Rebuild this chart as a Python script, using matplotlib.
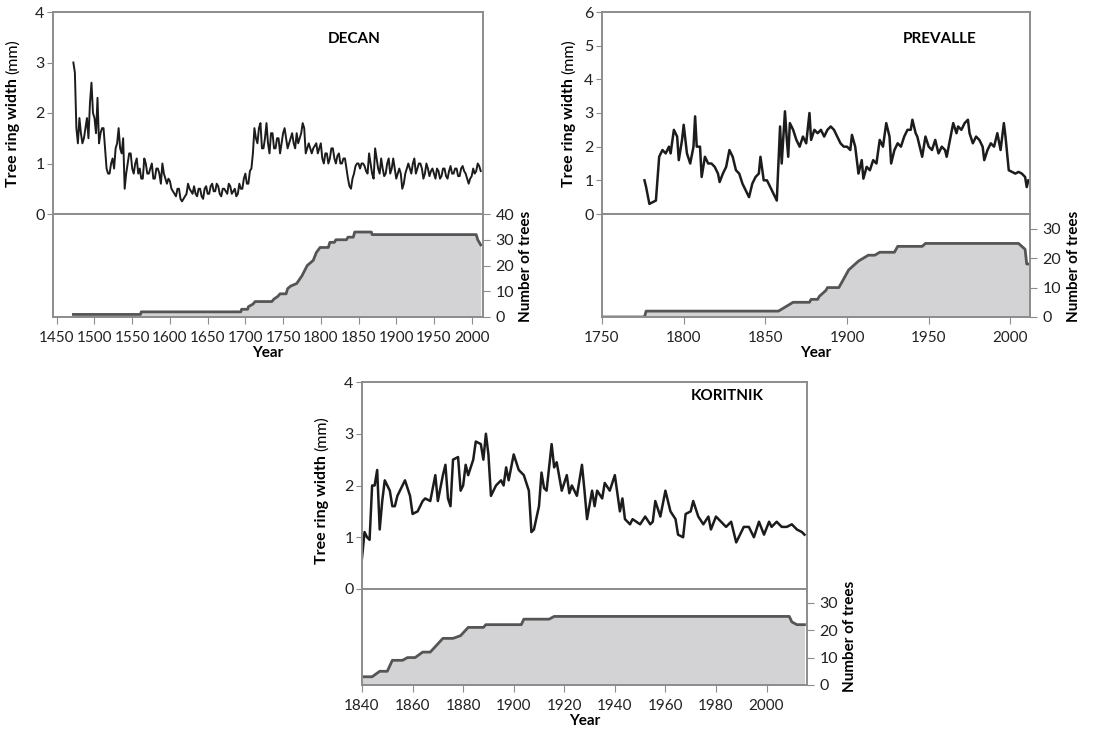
import numpy as np
import matplotlib
matplotlib.use("Agg")
import matplotlib.pyplot as plt

plt.rcParams['font.family'] = ['Lato', 'DejaVu Sans']

# ---- DECAN ----
decan_years = np.arange(1472, 2013, 2)
decan_width = [3.0, 2.8, 1.7, 1.4, 1.9, 1.6, 1.4, 1.5, 1.7, 1.9,
               1.5, 2.2, 2.6, 2.0, 1.9, 1.6, 2.3, 1.4, 1.6, 1.7,
               1.7, 1.3, 0.9, 0.8, 0.8, 1.0, 1.1, 0.9, 1.3, 1.4,
               1.7, 1.3, 1.2, 1.5, 0.5, 0.8, 1.0, 1.2, 1.2, 0.9,
               0.8, 1.0, 1.1, 0.8, 0.9, 0.7, 0.7, 1.1, 1.0, 0.8,
               0.8, 0.9, 1.0, 0.7, 0.7, 0.9, 0.9, 0.8, 0.6, 1.0,
               0.8, 0.7, 0.6, 0.7, 0.65, 0.5, 0.45, 0.4, 0.35, 0.5,
               0.5, 0.3, 0.25, 0.3, 0.35, 0.4, 0.6, 0.5, 0.45, 0.4,
               0.55, 0.4, 0.35, 0.5, 0.5, 0.35, 0.3, 0.5, 0.55, 0.4,
               0.4, 0.55, 0.6, 0.45, 0.45, 0.6, 0.55, 0.4, 0.35, 0.5,
               0.5, 0.45, 0.4, 0.6, 0.55, 0.4, 0.45, 0.5, 0.35, 0.4,
               0.6, 0.5, 0.5, 0.7, 0.8, 0.6, 0.6, 0.85, 0.9, 1.2,
               1.7, 1.5, 1.4, 1.7, 1.8, 1.3, 1.3, 1.5, 1.8, 1.4,
               1.2, 1.6, 1.6, 1.3, 1.3, 1.5, 1.5, 1.2, 1.4, 1.6,
               1.7, 1.5, 1.3, 1.4, 1.5, 1.6, 1.4, 1.3, 1.6, 1.4,
               1.5, 1.6, 1.8, 1.7, 1.2, 1.3, 1.4, 1.3, 1.2, 1.3,
               1.35, 1.4, 1.2, 1.3, 1.4, 1.1, 1.0, 1.2, 1.2, 1.0,
               1.1, 1.3, 1.3, 1.1, 1.0, 1.15, 1.2, 1.0, 1.0, 1.1,
               1.1, 0.9, 0.7, 0.55, 0.5, 0.7, 0.8, 0.95, 1.0, 1.0,
               0.9, 1.0, 1.0, 0.95, 0.85, 0.8, 1.2, 1.0, 0.8, 0.7,
               1.3, 1.1, 0.9, 0.8, 1.1, 0.9, 0.75, 0.8, 1.0, 1.1,
               0.8, 0.9, 1.1, 0.9, 0.7, 0.8, 0.9, 0.8, 0.5, 0.6,
               0.8, 0.9, 1.0, 0.9, 0.8, 1.0, 1.1, 0.8, 0.9, 1.0,
               1.0, 0.9, 0.7, 0.8, 1.0, 0.9, 0.75, 0.85, 0.9, 0.8,
               0.7, 0.9, 0.85, 0.7, 0.75, 0.9, 0.9, 0.75, 0.7, 0.85,
               0.95, 0.8, 0.8, 0.9, 0.9, 0.75, 0.75, 0.9, 0.95, 0.85,
               0.8, 0.7, 0.6, 0.7, 0.75, 0.9, 0.8, 0.85, 1.0, 0.95,
               0.85]
decan_depth_years = [1472, 1561, 1562, 1694, 1695, 1703, 1704, 1710, 1713, 1735,
                     1738, 1743, 1746, 1754, 1756, 1760, 1768, 1775, 1782, 1790,
                     1794, 1799, 1810, 1812, 1818, 1820, 1834, 1836, 1843, 1845,
                     1867, 1868, 2006, 2008, 2012]
decan_depth = [1, 1, 2, 2, 3, 3, 4, 5, 6, 6,
               7, 8, 9, 9, 11, 12, 13, 16, 20, 22,
               25, 27, 27, 29, 29, 30, 30, 31, 31, 33,
               33, 32, 32, 30, 28]

# ---- PREVALLE ----
prev_years = [1776, 1777, 1779, 1781, 1783, 1785, 1787, 1789, 1791, 1792,
              1794, 1796, 1797, 1799, 1800, 1802, 1804, 1806, 1807, 1808,
              1810, 1811, 1813, 1815, 1817, 1819, 1821, 1822, 1824, 1826,
              1828, 1830, 1832, 1834, 1836, 1838, 1840, 1842, 1844, 1846,
              1847, 1849, 1851, 1853, 1855, 1857, 1858, 1859, 1860, 1862,
              1863, 1864, 1865, 1867, 1869, 1871, 1873, 1875, 1877, 1878,
              1880, 1882, 1884, 1886, 1888, 1890, 1892, 1894, 1896, 1898,
              1900, 1902, 1903, 1905, 1907, 1909, 1910, 1912, 1914, 1916,
              1918, 1920, 1922, 1924, 1926, 1927, 1929, 1931, 1933, 1935,
              1937, 1939, 1940, 1942, 1943, 1945, 1946, 1948, 1950, 1952,
              1954, 1956, 1958, 1960, 1961, 1963, 1965, 1967, 1968, 1970,
              1972, 1974, 1975, 1977, 1979, 1981, 1983, 1984, 1986, 1988,
              1990, 1992, 1994, 1996, 1997, 1999, 2001, 2003, 2005, 2007,
              2009, 2010, 2011]
prev_width = [1.0, 0.8, 0.3, 0.35, 0.4, 1.7, 1.9, 1.8, 2.0, 1.8,
              2.5, 2.3, 1.6, 2.2, 2.65, 1.8, 1.5, 2.0, 2.9, 2.0,
              2.0, 1.1, 1.7, 1.5, 1.5, 1.4, 1.2, 0.95, 1.2, 1.4,
              1.9, 1.7, 1.3, 1.2, 0.9, 0.7, 0.5, 0.9, 1.1, 1.2,
              1.7, 1.0, 1.0, 0.8, 0.6, 0.4, 1.5, 2.6, 1.5, 3.05,
              2.3, 1.7, 2.7, 2.5, 2.2, 2.0, 2.3, 2.1, 3.0, 2.2,
              2.5, 2.4, 2.5, 2.3, 2.5, 2.6, 2.5, 2.3, 2.1, 2.0,
              2.0, 1.9, 2.35, 2.0, 1.2, 1.6, 1.05, 1.4, 1.3, 1.6,
              1.5, 2.2, 2.0, 2.7, 2.3, 1.5, 1.9, 2.1, 2.0, 2.3,
              2.5, 2.5, 2.8, 2.4, 2.3, 1.9, 1.7, 2.3, 2.0, 1.9,
              2.2, 1.8, 2.0, 1.9, 1.7, 2.2, 2.7, 2.4, 2.6, 2.5,
              2.7, 2.8, 2.4, 2.1, 2.3, 2.2, 2.0, 1.6, 1.9, 2.1,
              2.0, 2.4, 1.9, 2.7, 2.3, 1.3, 1.25, 1.2, 1.25, 1.2,
              1.1, 0.8, 1.0]
prev_depth_years = [1750, 1776, 1777, 1858, 1861, 1864, 1867, 1877, 1878, 1882,
                    1883, 1885, 1887, 1888, 1895, 1897, 1899, 1901, 1903, 1905,
                    1907, 1910, 1913, 1917, 1920, 1929, 1931, 1946, 1948, 2005,
                    2007, 2009, 2010, 2012]
prev_depth = [0, 0, 2, 2, 3, 4, 5, 5, 6, 6,
              7, 8, 9, 10, 10, 12, 14, 16, 17, 18,
              19, 20, 21, 21, 22, 22, 24, 24, 25, 25,
              24, 23, 18, 18]

# ---- KORITNIK ----
kor_years = [1840, 1841, 1842, 1843, 1844, 1845, 1846, 1847, 1848, 1849,
             1851, 1852, 1853, 1854, 1856, 1857, 1859, 1860, 1862, 1864,
             1865, 1867, 1868, 1869, 1870, 1872, 1873, 1874, 1875, 1876,
             1878, 1879, 1880, 1881, 1882, 1884, 1885, 1887, 1888, 1889,
             1890, 1891, 1893, 1895, 1896, 1897, 1898, 1900, 1902, 1904,
             1906, 1907, 1908, 1910, 1911, 1912, 1913, 1915, 1916, 1917,
             1919, 1921, 1922, 1923, 1925, 1927, 1928, 1929, 1931, 1932,
             1933, 1935, 1936, 1938, 1940, 1942, 1943, 1944, 1946, 1947,
             1950, 1952, 1954, 1955, 1956, 1958, 1960, 1962, 1964, 1965,
             1967, 1968, 1970, 1971, 1973, 1975, 1977, 1978, 1980, 1982,
             1984, 1986, 1988, 1990, 1991, 1993, 1995, 1997, 1999, 2001,
             2002, 2004, 2006, 2008, 2010, 2012, 2014, 2015]
kor_width = [0.6, 1.1, 1.0, 0.95, 2.0, 2.0, 2.3, 1.15, 1.7, 2.1,
             1.9, 1.6, 1.6, 1.8, 2.0, 2.1, 1.8, 1.45, 1.5, 1.7,
             1.75, 1.7, 1.95, 2.2, 1.7, 2.2, 2.4, 1.75, 1.6, 2.5,
             2.55, 1.9, 2.0, 2.4, 2.2, 2.5, 2.85, 2.8, 2.5, 3.0,
             2.6, 1.8, 2.0, 2.1, 2.0, 2.35, 2.1, 2.6, 2.3, 2.2,
             1.9, 1.1, 1.15, 1.6, 2.25, 1.95, 1.9, 2.8, 2.35, 2.45,
             1.9, 2.2, 1.85, 2.0, 1.8, 2.4, 1.9, 1.35, 1.9, 1.6,
             1.9, 1.75, 2.05, 1.9, 2.2, 1.5, 1.75, 1.35, 1.25, 1.35,
             1.25, 1.4, 1.25, 1.3, 1.7, 1.4, 1.9, 1.5, 1.35, 1.05,
             1.0, 1.45, 1.5, 1.7, 1.4, 1.25, 1.4, 1.15, 1.4, 1.3,
             1.2, 1.3, 0.9, 1.1, 1.2, 1.2, 1.0, 1.3, 1.05, 1.3,
             1.2, 1.3, 1.2, 1.2, 1.25, 1.15, 1.1, 1.05]
kor_depth_years = [1840, 1844, 1847, 1850, 1852, 1856, 1858, 1861, 1864, 1867,
                   1872, 1876, 1879, 1882, 1888, 1889, 1903, 1904, 1914, 1916,
                   2009, 2010, 2012, 2015]
kor_depth = [3, 3, 5, 5, 9, 9, 10, 10, 12, 12,
             17, 17, 18, 21, 21, 22, 22, 24, 24, 25,
             25, 23, 22, 22]

W, H = 1108, 732
GRAY = '#8c8c8c'
fig = plt.figure(figsize=(W / 100, H / 100), dpi=100)


def box(l, t, r, b):
    return [l / W, 1 - b / H, (r - l) / W, (b - t) / H]


def ylabel_mixed(x, ycenter):
    # bold "Tree ring width" + normal "(mm)", rotated
    t1 = fig.text(x / W, 0, 'Tree ring width', rotation=90, fontsize=11.5,
                  fontweight='bold', ha='center', va='bottom')
    t2 = fig.text(x / W, 0, '(mm)', rotation=90, fontsize=11.5,
                  ha='center', va='bottom')
    r = fig.canvas.get_renderer()
    h1 = t1.get_window_extent(r).height
    h2 = t2.get_window_extent(r).height
    gap = 4
    total = h1 + gap + h2
    y0 = (H - ycenter) - total / 2
    t1.set_y(y0 / H)
    t2.set_y((y0 + h1 + gap) / H)


def panel(up, low, yrs, rw, dyrs, dep, xlim, xticks, rw_max, n_max, n_ticks,
          name, name_xy, lw):
    ax = fig.add_axes(box(*up))
    ax.plot(yrs, rw, color='#1c1c1c', lw=lw)
    ax.set_xlim(*xlim)
    ax.set_ylim(0, rw_max)
    ax.set_yticks(range(0, rw_max + 1))
    ax.set_xticks([])
    for s in ax.spines.values():
        s.set_color(GRAY)
        s.set_linewidth(1.4)
    ax.tick_params(axis='y', direction='out', length=4, color=GRAY,
                   labelsize=11.5, pad=2, labelcolor='#222222')
    ax.text(name_xy[0], name_xy[1], name, transform=ax.transAxes,
            fontsize=11, fontweight='bold', ha='center', va='center')

    ax2 = fig.add_axes(box(*low))
    ax2.fill_between(dyrs, dep, 0, color='#d3d3d5', lw=0)
    ax2.plot(dyrs, dep, color='#555555', lw=2)
    ax2.set_xlim(*xlim)
    ax2.set_ylim(0, n_max)
    ax2.set_xticks(xticks)
    ax2.set_yticks(n_ticks)
    ax2.yaxis.tick_right()
    for s in ax2.spines.values():
        s.set_color(GRAY)
        s.set_linewidth(1.4)
    ax2.tick_params(direction='out', length=5, color=GRAY, labelsize=11.5,
                    pad=4, labelcolor='#222222')
    ax2.tick_params(axis='x', pad=5, labelsize=11)
    ax2.set_xlabel('Year', fontsize=11, fontweight='bold', labelpad=1)
    return ax, ax2


# DECAN
panel((53, 12, 483, 214), (53, 214, 483, 317), decan_years, decan_width,
      decan_depth_years, decan_depth, (1445, 2015), range(1450, 2001, 50),
      4, 40, [0, 10, 20, 30, 40], 'DECAN', (0.70, 0.865), 1.4)
ylabel_mixed(13, 113)
fig.text(526 / W, 1 - 266 / H, 'Number of trees', rotation=90, fontsize=11,
         fontweight='bold', ha='center', va='center')

# PREVALLE
panel((602, 12, 1030, 214), (602, 214, 1030, 317), prev_years, prev_width,
      prev_depth_years, prev_depth, (1750, 2012), range(1750, 2001, 50),
      6, 35, [0, 10, 20, 30], 'PREVALLE', (0.79, 0.865), 1.8)
ylabel_mixed(569, 113)
fig.text(1074 / W, 1 - 266 / H, 'Number of trees', rotation=90, fontsize=11,
         fontweight='bold', ha='center', va='center')

# KORITNIK
panel((362, 382, 807, 589), (362, 589, 807, 685), kor_years, kor_width,
      kor_depth_years, kor_depth, (1840, 2016), range(1840, 2001, 20),
      4, 35, [0, 10, 20, 30], 'KORITNIK', (0.82, 0.93), 1.8)
ylabel_mixed(322, 490)
fig.text(850 / W, 1 - 636 / H, 'Number of trees', rotation=90, fontsize=11,
         fontweight='bold', ha='center', va='center')

fig.savefig('out.png', dpi=100)
